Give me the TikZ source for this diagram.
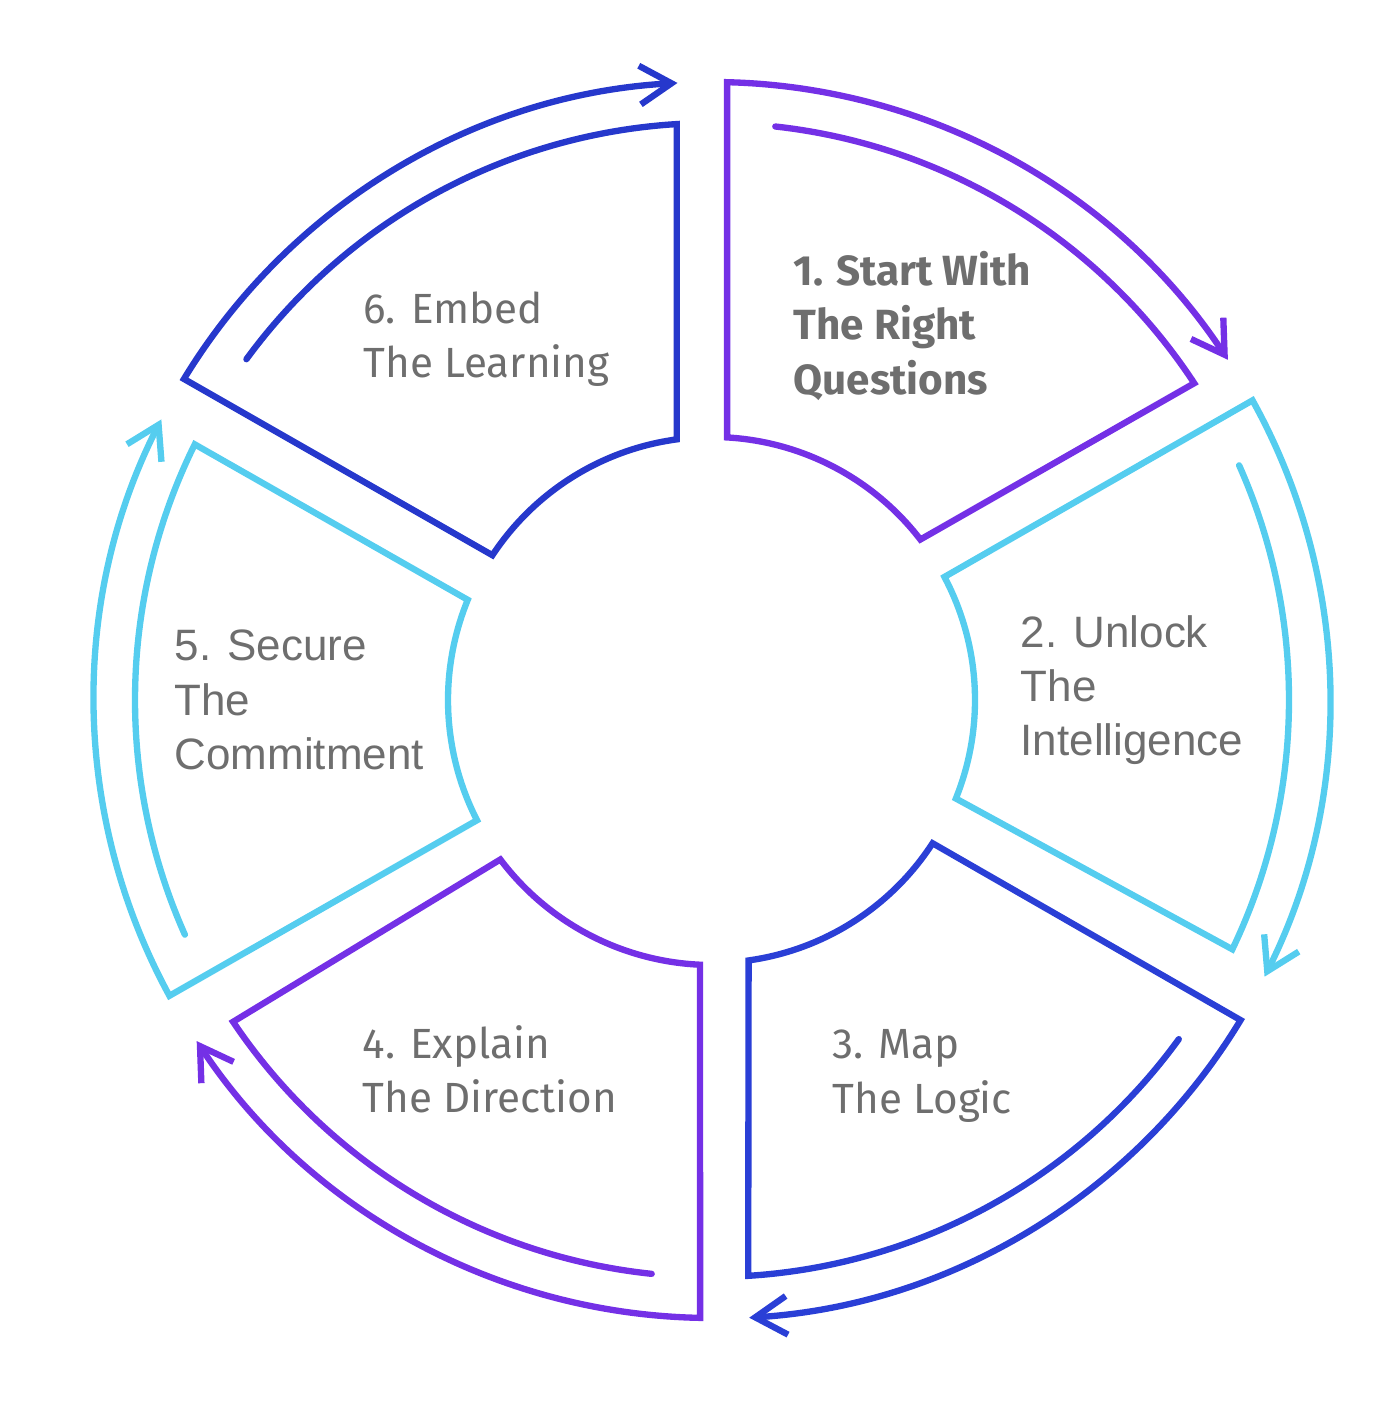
\documentclass[tikz,border=0pt]{standalone}
\usepackage{fontspec}
\setmainfont{Fira Sans}
\newfontfamily\arialfont{Liberation Sans}
\usetikzlibrary{arrows.meta}
\definecolor{segpurple}{HTML}{7430E6}
\definecolor{segcyan}{HTML}{55CDEF}
\definecolor{segblue}{HTML}{2A3FD6}
\definecolor{segnavy}{HTML}{2638CC}
\definecolor{labelgray}{HTML}{6E6E6E}
\begin{document}
\begin{tikzpicture}[x=0.01cm,y=0.01cm,
  segline/.style={line width=1.8pt, line join=miter, line cap=round,
    -{Straight Barb[length=9pt,width=11pt,line width=1.8pt]}},
  steplabel/.style={anchor=west, align=left, inner sep=0pt, text=labelgray,
    font=\fontsize{12}{15.4}\selectfont},
  arialtext/.style={font=\fontsize{12.5}{15.4}\selectfont\arialfont}]
\useasboundingbox (-712,-716) rectangle (676,700);
% segment 1
\draw[segline, segpurple] (83.7:577) arc[start angle=83.7, end angle=33.3, radius=577]
  -- (37.6:263) arc[start angle=37.6, end angle=86.7, radius=263]
  -- (88.6:618) arc[start angle=88.6, end angle=33.4, radius=618];
% segment 2
\draw[segline, segcyan] (24:577) arc[start angle=24, end angle=-25.6, radius=577]
  -- (-22:263) arc[start angle=-22, end angle=27.9, radius=263]
  -- (29:618) arc[start angle=29, end angle=-26.6, radius=618];
% segment 3
\draw[segline, segblue] (-36:577) arc[start angle=-36, end angle=-86.4, radius=577]
  -- (-82:263) arc[start angle=-82, end angle=-33, radius=263]
  -- (-31.2:618) arc[start angle=-31.2, end angle=-86.4, radius=620];
% segment 4
\draw[segline, segpurple] (-96:577) arc[start angle=-96, end angle=-146.1, radius=577]
  -- (-143:265) arc[start angle=-143, end angle=-92.6, radius=265]
  -- (-91.1:618) arc[start angle=-91.1, end angle=-146.5, radius=618];
% segment 5
\draw[segline, segcyan] (204:577) arc[start angle=204, end angle=153.7, radius=577]
  -- (157.7:264) arc[start angle=157.7, end angle=207.1, radius=264]
  -- (208.6:618) arc[start angle=208.6, end angle=153, radius=618];
% segment 6
\draw[segline, segnavy] (143.8:577) arc[start angle=143.8, end angle=93.5, radius=577]
  -- (97.7:263) arc[start angle=97.7, end angle=146.6, radius=263]
  -- (148.7:618) arc[start angle=148.7, end angle=93.2, radius=618];
% labels
\node[steplabel, font=\fontsize{12}{15.4}\selectfont\bfseries] (t1) at (81,374) {1. Start With\\The Right\\Questions};
\node[steplabel, arialtext] (t2) at (308,10) {2. Unlock\\The\\Intelligence};
\node[steplabel] (t3) at (120,-376) {3. Map\\The Logic};
\node[steplabel] (t4) at (-350,-369) {4. Explain\\The Direction};
\node[steplabel, arialtext] (t5) at (-538,0) {5. Secure\\The\\Commitment};
\node[steplabel] (t6) at (-349,361) {6. Embed\\The Learning};
\end{tikzpicture}
\end{document}
